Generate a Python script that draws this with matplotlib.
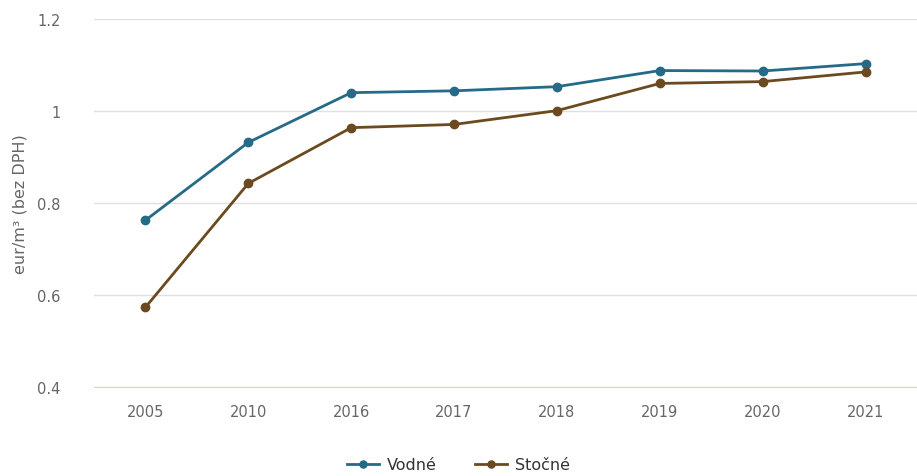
import matplotlib
matplotlib.use('Agg')
import matplotlib.pyplot as plt

years = ['2005', '2010', '2016', '2017', '2018', '2019', '2020', '2021']
vodne = [0.762, 0.931, 1.039, 1.043, 1.052, 1.087, 1.086, 1.102]
stocne = [0.573, 0.842, 0.963, 0.970, 1.000, 1.059, 1.063, 1.084]
yticks = [0.4, 0.6, 0.8, 1.0, 1.2]
ytick_labels = ['0.4', '0.6', '0.8', '1', '1.2']

plt.rcParams['font.family'] = ['DejaVu Sans']

fig = plt.figure(figsize=(9.17, 4.77), dpi=100)
ax = fig.add_axes([94 / 917, (477 - 388) / 477, 1 - 94 / 917, (388 - 19.5) / 477])

x = list(range(len(years)))
ax.plot(x, vodne, color='#256a87', lw=2.0, marker='o', ms=6, label='Vodné', zorder=3)
ax.plot(x, stocne, color='#6b4a1f', lw=2.0, marker='o', ms=6, label='Stočné', zorder=3)

ax.set_xlim(-0.5, len(years) - 0.5)
ax.set_ylim(0.4, 1.2)
ax.set_xticks(x)
ax.set_xticklabels(years)
ax.set_yticks(yticks)
ax.set_yticklabels(ytick_labels)
ax.tick_params(axis='both', length=0, labelsize=10.5, colors='#666666')
ax.tick_params(axis='x', pad=12)
ax.tick_params(axis='y', pad=24)
ax.grid(axis='y', color='#e0e0e0', lw=1)
ax.set_axisbelow(True)
for s in ['top', 'right', 'left']:
    ax.spines[s].set_visible(False)
ax.spines['bottom'].set_color('#ccd6eb')
ax.spines['bottom'].set_zorder(2)
ax.set_ylabel('eur/m³ (bez DPH)', fontsize=11.5, color='#666666')
ax.yaxis.set_label_coords((28 - 94) / (917 - 94), 0.5)

leg = fig.legend(loc='center', bbox_to_anchor=(0.5, (477 - 466) / 477), ncol=2, frameon=False,
                 fontsize=11.5, handlelength=2.0, columnspacing=2.4, handletextpad=0.5,
                 markerscale=0.85)
for t in leg.get_texts():
    t.set_color('#333333')

plt.savefig('out.png', dpi=100)
